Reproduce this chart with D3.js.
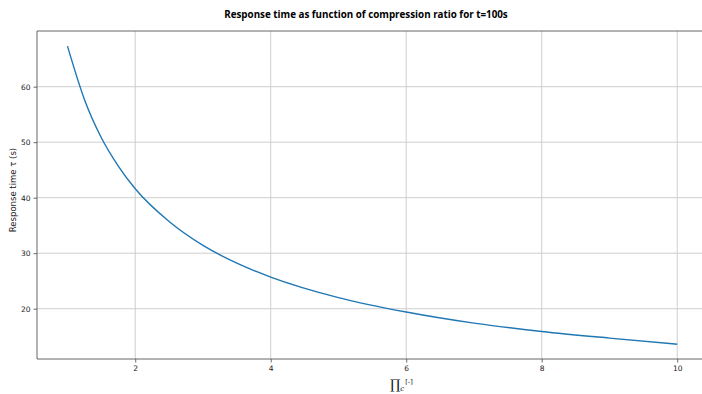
<!DOCTYPE html>
<html>
<head>
<meta charset="utf-8">
<script src="https://cdn.jsdelivr.net/npm/d3@7"></script>
<style>
  html, body { margin: 0; padding: 0; background: #fff; }
  svg { display: block; }
</style>
</head>
<body>
<svg id="chart" width="702" height="394"></svg>
<script>
// Data
const ratio = [1, 1.25, 1.5, 1.75, 2, 2.5, 3, 3.5, 4, 5, 6, 7, 8, 9, 10];
const responseTime = [67.3, 57.7, 50.8, 45.7, 41.6, 35.7, 31.4, 28.2, 25.7, 22.0, 19.4, 17.4, 15.9, 14.7, 13.6];
const xTicks = [2, 4, 6, 8, 10];
const yTicks = [20, 30, 40, 50, 60];
const titleText = "Response time as function of compression ratio for t=100s";
const yLabelText = "Response time  \u03c4 (s)";

(function () {
const svg = d3.select("#chart");
const W = 702;
const mLeft = 37, mTop = 31, mBottom = 359, mRight = 707.7;

const x = d3.scaleLinear().domain([0.55, 10.45]).range([mLeft, mRight]);
const y = d3.scaleLinear().domain([10.94, 70.03]).range([mBottom, mTop]);

const pts = ratio.map((r, i) => [r, responseTime[i]]);

// grid
const g = svg.append("g");
g.selectAll(".gx").data(xTicks).enter().append("line")
  .attr("x1", d => x(d)).attr("x2", d => x(d))
  .attr("y1", mTop).attr("y2", mBottom)
  .attr("stroke", "#c8c8c8").attr("stroke-width", 0.9);
g.selectAll(".gy").data(yTicks).enter().append("line")
  .attr("x1", mLeft).attr("x2", mRight)
  .attr("y1", d => y(d)).attr("y2", d => y(d))
  .attr("stroke", "#c8c8c8").attr("stroke-width", 0.9);

// line
svg.append("path")
  .datum(pts)
  .attr("fill", "none")
  .attr("stroke", "#1f77b4")
  .attr("stroke-width", 1.4)
  .attr("d", d3.line().x(d => x(d[0])).y(d => y(d[1])).curve(d3.curveMonotoneX));

// axes
const xAxis = d3.axisBottom(x).tickValues(xTicks).tickSize(3.5).tickPadding(3).tickFormat(d3.format("d"));
const yAxis = d3.axisLeft(y).tickValues(yTicks).tickSize(3.5).tickPadding(3).tickFormat(d3.format("d"));

const gx = svg.append("g").attr("transform", `translate(0,${mBottom})`).call(xAxis);
const gy = svg.append("g").attr("transform", `translate(${mLeft},0)`).call(yAxis);
[gx, gy].forEach(a => {
  a.select(".domain").remove();
  a.selectAll("line").attr("stroke", "#444").attr("stroke-width", 0.8);
  a.selectAll("text").attr("font-family", "DejaVu Sans").attr("font-size", 7.5).attr("fill", "#222");
});

// spines
svg.append("line").attr("x1", mLeft).attr("x2", mLeft).attr("y1", mTop).attr("y2", mBottom)
  .attr("stroke", "#555").attr("stroke-width", 0.9);
svg.append("line").attr("x1", mLeft).attr("x2", W).attr("y1", mBottom).attr("y2", mBottom)
  .attr("stroke", "#555").attr("stroke-width", 0.9);
svg.append("line").attr("x1", mLeft).attr("x2", W).attr("y1", mTop).attr("y2", mTop)
  .attr("stroke", "#555").attr("stroke-width", 0.9);

// title
svg.append("text")
  .attr("x", 366).attr("y", 18)
  .attr("text-anchor", "middle")
  .attr("font-family", "Open Sans")
  .attr("font-weight", "bold")
  .attr("font-size", 9.8)
  .attr("fill", "#000")
  .text(titleText);

// y label
svg.append("text")
  .attr("transform", "translate(16,190) rotate(-90)")
  .attr("text-anchor", "middle")
  .attr("font-family", "DejaVu Sans")
  .attr("font-size", 8.5)
  .attr("fill", "#222")
  .text(yLabelText);

// x label: big Pi with subscript c and small [-]
const xl = svg.append("text")
  .attr("x", 390).attr("y", 389)
  .attr("fill", "#111");
xl.append("tspan").attr("font-family", "DejaVu Serif").attr("font-size", 13).text("\u220f");
xl.append("tspan").attr("font-family", "DejaVu Serif").attr("font-style", "italic").attr("font-size", 7).attr("dy", 2).text("c");
xl.append("tspan").attr("font-family", "DejaVu Sans").attr("font-size", 6.5).attr("dx", 1).attr("dy", -7).text("[-]");
})();
</script>
</body>
</html>
